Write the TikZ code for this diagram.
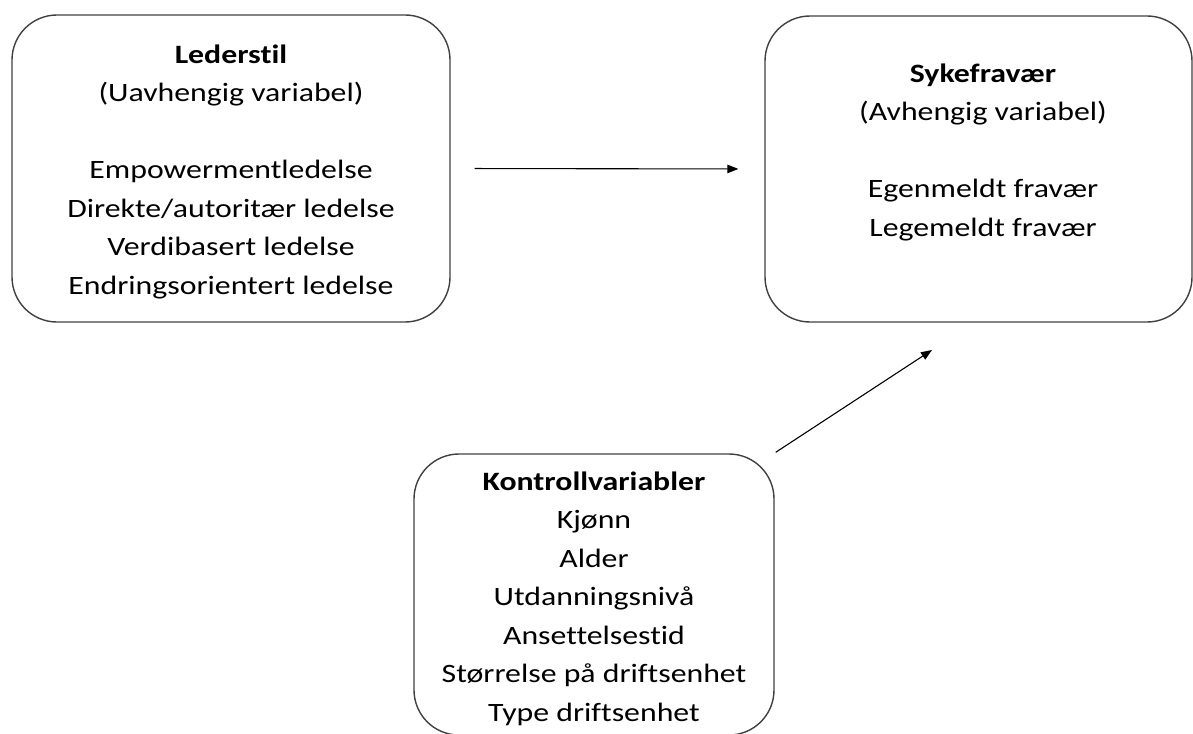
\documentclass[tikz,border=0pt]{standalone}
\usepackage{fontspec}
\setmainfont{Carlito}[FakeStretch=1.2,RawFeature=-liga]
\usetikzlibrary{arrows.meta}
\begin{document}
\begin{tikzpicture}[x=1pt,y=-1pt,
  box/.style={draw=black!75,line width=1.4pt,rounded corners=45pt,inner sep=0pt},
  txt/.style={align=center,inner sep=0pt,anchor=north,text=black,
    font={\fontsize{26.5}{38.5}\selectfont}},
  arr/.style={draw=black,line width=1.1pt,-{Triangle[length=11pt,width=8.5pt]}}]
\useasboundingbox (0,0) rectangle (1193,733);
\begin{scope}
\clip (0,0) rectangle (1193,733);
\node[box,minimum width=438pt,minimum height=307pt] (L) at (231,168.5) {};
\node[box,minimum width=427pt,minimum height=306pt] (R) at (978.5,169) {};
\node[box,minimum width=360pt,minimum height=281pt] (K) at (594,594.5) {};
\end{scope}
\node[txt] (Lt) at (231,41) {\rule{0pt}{22pt}\textbf{Lederstil}\\(Uavhengig variabel)\\[38.5pt]Empowermentledelse\\Direkte/autoritær ledelse\\Verdibasert ledelse\\Endringsorientert ledelse};
\node[txt] (Rt) at (983,60) {\rule{0pt}{22pt}\textbf{Sykefravær}\\(Avhengig variabel)\\[38.5pt]Egenmeldt fravær\\Legemeldt fravær};
\node[txt] (Kt) at (594,468) {\rule{0pt}{22pt}\textbf{Kontrollvariabler}\\Kjønn\\Alder\\Utdanningsnivå\\Ansettelsestid\\Størrelse på driftsenhet\\Type driftsenhet};
\coordinate (t2) at (932,350);
\draw[arr,shorten <=24pt,shorten >=26pt] (L.east) -- (R.west);
\draw[arr] ([shift={(1pt,1pt)}]K.north east) -- (t2);
\end{tikzpicture}
\end{document}
